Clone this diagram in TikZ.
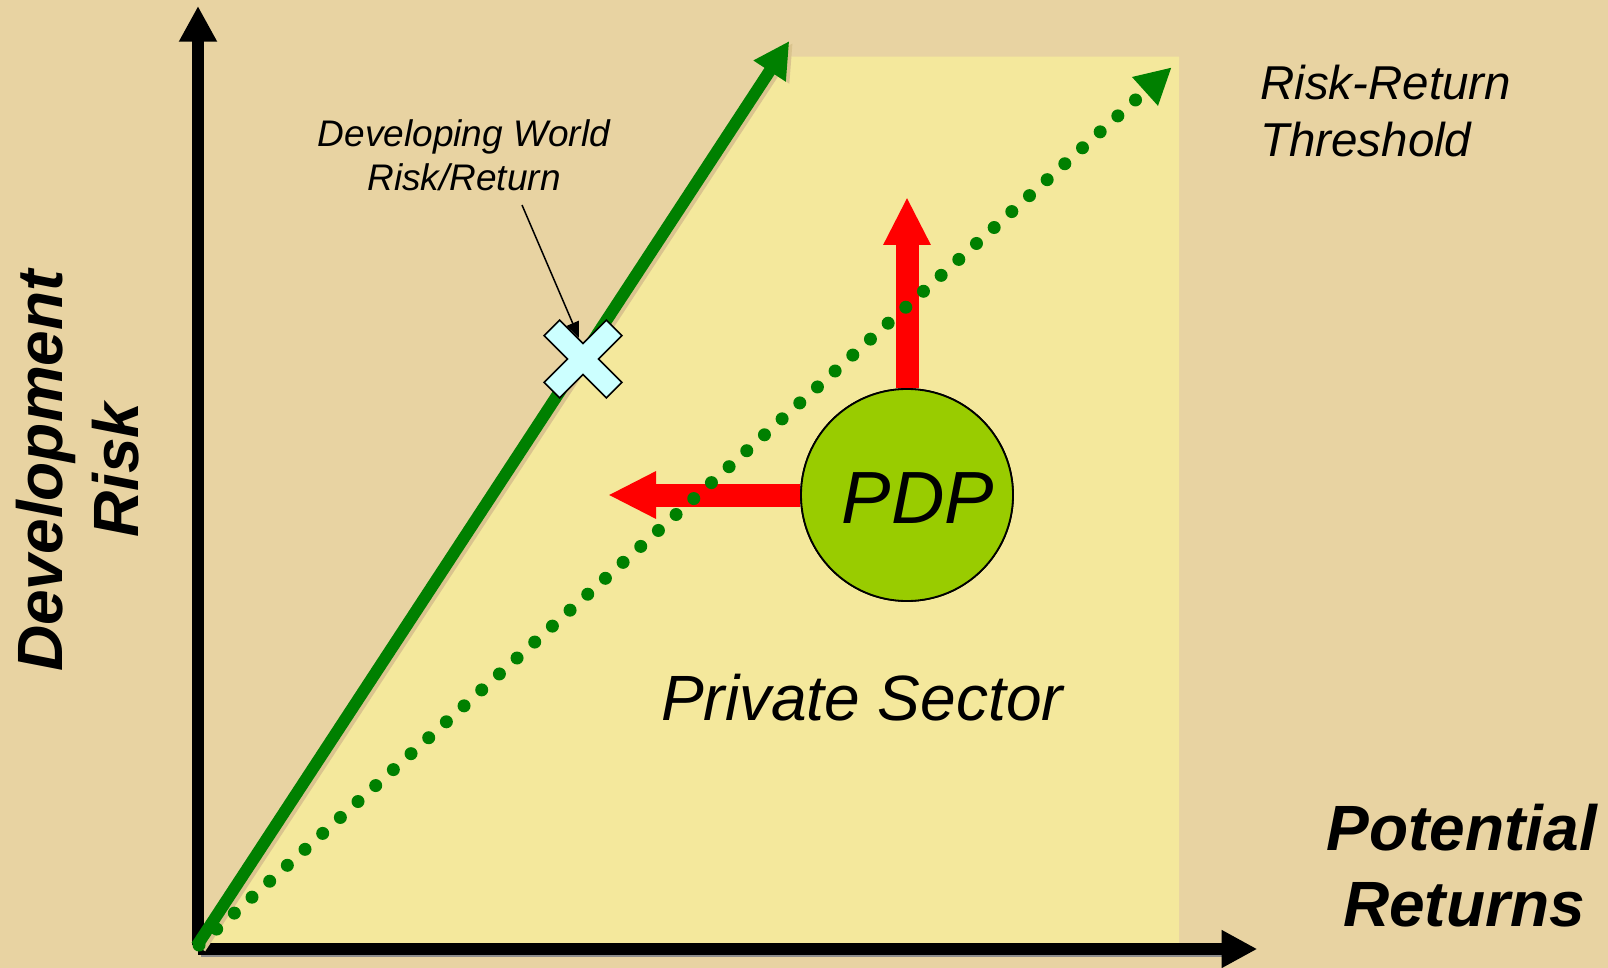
\documentclass[tikz,border=0pt]{standalone}
\usepackage{fontspec}
\setmainfont{Liberation Sans}
\usetikzlibrary{arrows.meta}
\definecolor{bgtan}{HTML}{E8D3A2}
\definecolor{zoneyellow}{HTML}{F4E89C}
\definecolor{linegreen}{HTML}{008000}
\definecolor{pdpgreen}{HTML}{99CC00}
\definecolor{xcyan}{HTML}{CCFFFF}
\definecolor{shadowtan}{HTML}{DAC48E}
\tikzset{
  axisline/.style={line width=11.5pt, black},
  solidgreen/.style={line width=12pt, linegreen, -{Triangle[length=36pt,width=36pt]}},
  greenshadow/.style={line width=12pt, shadowtan, -{Triangle[length=36pt,width=36pt]}},
  dotgreen/.style={line width=13pt, linegreen, line cap=round, dash pattern=on 0pt off 23.8pt, -{Triangle[length=36pt,width=36pt]}},
  redarrow/.style={line width=23pt, red, -{Triangle[length=48pt,width=44pt]}},
  pointer/.style={line width=1.5pt, black, -{Triangle[length=16pt,width=13pt]}},
  crossmark/.style={draw=black, line width=1.6pt, fill=xcyan, line join=miter},
  pdpcircle/.style={circle, draw=black, line width=1.8pt, fill=pdpgreen, minimum size=212pt, inner sep=0pt},
  smalltxt/.style={anchor=base, inner sep=0pt, font=\fontsize{37}{44}\selectfont\itshape},
  midtxt/.style={anchor=base west, inner sep=0pt, font=\fontsize{47.5}{56}\selectfont\itshape},
  bigtxt/.style={anchor=base, inner sep=0pt, font=\fontsize{64}{77}\selectfont\itshape},
  pdptxt/.style={anchor=base, inner sep=0pt, font=\fontsize{74}{80}\selectfont\itshape},
  axistxt/.style={anchor=base, inner sep=0pt, font=\fontsize{64}{77}\selectfont\bfseries\itshape}
}
\begin{document}
\begin{tikzpicture}[x=1pt,y=-1pt]
\fill[bgtan] (0,0) rectangle (1608,968);
\useasboundingbox (0,0) rectangle (1608,968);

% coordinates
\coordinate (yb) at (198,945);
\coordinate (yt) at (198,6);
\coordinate (xb) at (198,949);
\coordinate (xt) at (1257.3,949);
\coordinate (gs) at (196.7,946);
\coordinate (gt) at (789.3,41);
\coordinate (ds) at (199,945);
\coordinate (dt) at (1171.7,67.3);
\coordinate (uptip) at (907,197);
\coordinate (lefttip) at (608,495);
\coordinate (annstart) at (522,205);
\coordinate (anntip) at (579,338);

% private sector zone
\fill[zoneyellow] (198,943) -- (779,56.7) -- (1179,56.7) -- (1179,943) -- cycle;

% axes
\draw[axisline, -{Triangle[length=35.7pt,width=35.7pt]}] (yb) -- (yt);
\draw[black!45, line width=2pt] (201,955.5) -- (1222,955.5);
\draw[axisline, -{Triangle[length=35.6pt,width=35.4pt]}] (xb) -- (xt);

% green solid line with shadow
\draw[greenshadow] ([shift={(3.5,2)}]gs) -- ([shift={(3.5,2)}]gt);
\draw[solidgreen] (gs) -- (gt);

% PDP circle and red arrows
\node[pdpcircle] (pdp) at (907,495) {};
\draw[redarrow] (pdp.north) -- (uptip);
\draw[redarrow] (pdp.west) -- (lefttip);
\node[pdpcircle] (pdpc) at (907,495) {};
\node[pdptxt] (pdptext) at (918,523) {PDP};

% dotted threshold line
\draw[dotgreen] (ds) -- (dt);

% X mark
\draw[crossmark, shift={(583,359)}, rotate=45]
  (11,11) -- (44,11) -- (44,-11) -- (11,-11) -- (11,-44) -- (-11,-44) --
  (-11,-11) -- (-44,-11) -- (-44,11) -- (-11,11) -- (-11,44) -- (11,44) -- cycle;

% annotation
\node[smalltxt] (dw1) at (464,147) {Developing World};
\node[smalltxt] (dw2) at (464,191) {Risk/Return};
\draw[pointer] (annstart) -- (anntip);

% labels
\node[midtxt] (rr1) at (1260,100) {Risk-Return};
\node[midtxt] (rr2) at (1260,157) {Threshold};
\node[bigtxt] (ps) at (862,720) {Private Sector};
\node[axistxt] (pr1) at (1462,850) {Potential};
\node[axistxt] (pr2) at (1464,926.7) {Returns};
\node[axistxt, rotate=90] (dr1) at (62,471) {Development};
\node[axistxt, rotate=90] (dr2) at (138,470) {Risk};
\end{tikzpicture}
\end{document}
